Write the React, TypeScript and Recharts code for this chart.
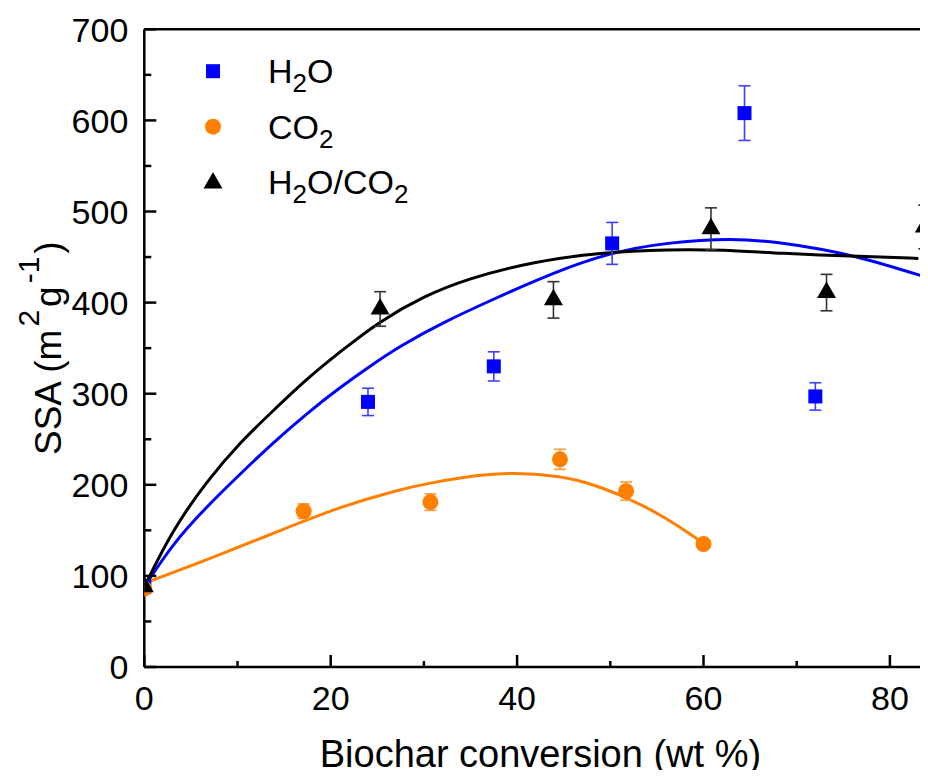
import React from 'react';
import { ComposedChart, Line, Scatter, XAxis, YAxis, ErrorBar, ReferenceLine, Label } from 'recharts';

const FONT = '"Liberation Sans", Arial, Helvetica, sans-serif';
const BLUE = '#0000FF';
const ORANGE = '#FF8000';
const BLACK = '#000000';

// Measured points (x = biochar conversion wt %, y = SSA m2/g, err = error bar half height)
const h2oX = [0, 24.0, 37.5, 50.2, 64.4, 72.0];
const h2oY = [88, 291, 330, 465, 608, 297];
const h2oErr = [0, 15, 16, 23, 30, 15];

const co2X = [0, 17.1, 30.7, 44.6, 51.7, 60.0];
const co2Y = [86, 171, 181, 228, 193, 135];
const co2Err = [0, 8, 9, 11, 10, 4];

const mixX = [0, 25.3, 43.9, 60.8, 73.2, 83.7];
const mixY = [88, 393, 403, 481, 411, 483];
const mixErr = [0, 19, 20, 23, 20, 24];

// Fitted curves
const h2oFitX = [0, 3.1, 6.7, 10.3, 13.9, 17.4, 21, 24.6, 27.4, 32, 37.5, 43.9, 50, 56, 63.2, 68.2, 72.5, 77.2, 84.5];
const h2oFitY = [88, 136, 176, 212, 247, 278, 307, 333, 352, 378, 404, 433, 455, 466, 471, 466, 459, 449, 426];

const co2FitX = [0, 6.7, 13.9, 21, 27.4, 30.7, 34, 38.9, 44.6, 48.4, 52.2, 55.8, 59.3, 60.0];
const co2FitY = [92, 117.5, 147, 176, 195, 202, 208, 214, 210, 200, 184, 165, 141, 135];

const mixFitX = [0, 3, 6.7, 10.3, 13.9, 17.4, 21, 25.3, 30, 34.6, 41.7, 48.9, 56.4, 62, 68.2, 77.1, 83.05];
const mixFitY = [88, 150, 204, 247, 282, 316, 346, 380, 407, 426, 445, 455, 458.5, 458, 454, 450.5, 448.5];

const xTicks = [0, 10, 20, 30, 40, 50, 60, 70, 80];
const yTicks = [0, 50, 100, 150, 200, 250, 300, 350, 400, 450, 500, 550, 600, 650, 700];

const toPts = (xs: number[], ys: number[], es?: number[]) =>
  xs.map((x, i) => ({ x, y: ys[i], err: es ? es[i] : 0 }));

const h2oData = toPts(h2oX, h2oY, h2oErr);
const co2Data = toPts(co2X, co2Y, co2Err);
const mixData = toPts(mixX, mixY, mixErr);
const h2oFit = toPts(h2oFitX, h2oFitY);
const co2Fit = toPts(co2FitX, co2FitY);
const mixFit = toPts(mixFitX, mixFitY);

const SquareShape = (p: any) => <rect x={p.cx - 7} y={p.cy - 7} width={14} height={14} fill={BLUE} />;
const CircleShape = (p: any) => <circle cx={p.cx} cy={p.cy} r={8} fill={ORANGE} />;
const TriShape = (p: any) => (
  <polygon
    points={`${p.cx},${p.cy - 11} ${p.cx - 9.5},${p.cy + 5.5} ${p.cx + 9.5},${p.cy + 5.5}`}
    fill={BLACK}
  />
);

const XTick = (props: any) => {
  const { x, y, payload } = props;
  const v = payload.value;
  const major = v % 20 === 0;
  return (
    <g>
      <line x1={x} x2={x} y1={y} y2={y - (major ? 12 : 6)} stroke="#000" strokeWidth={2.5} />
      {major && (
        <text x={x} y={y + 43} textAnchor="middle" fontSize={34} fontFamily={FONT} fill="#000">
          {v}
        </text>
      )}
    </g>
  );
};

const YTick = (props: any) => {
  const { x, y, payload } = props;
  const v = payload.value;
  const major = v % 100 === 0;
  return (
    <g>
      <line x1={x} x2={x + (major ? 12 : 7)} y1={y} y2={y} stroke="#000" strokeWidth={2.5} />
      {major && (
        <text x={x - 16} y={y} dy="0.36em" textAnchor="end" fontSize={34} fontFamily={FONT} fill="#000">
          {v}
        </text>
      )}
    </g>
  );
};

const XTitle = (props: any) => {
  const vb = props.viewBox;
  return (
    <text x={vb.x + vb.width / 2} y={vb.y + 99.7} textAnchor="middle" fontSize={38} fontFamily={FONT} fill="#000">
      Biochar conversion (wt %)
    </text>
  );
};

const YTitle = (props: any) => {
  const vb = props.viewBox;
  const cx = 61;
  const cy = vb.y + vb.height / 2;
  return (
    <text
      x={cx}
      y={cy}
      transform={`rotate(-90, ${cx}, ${cy})`}
      textAnchor="middle"
      fontSize={37}
      fontFamily={FONT}
      fill="#000"
    >
      SSA (m
      <tspan dx={3} dy={-22} fontSize={30}>2</tspan>
      <tspan dx={3} dy={22}>g</tspan>
      <tspan dx={3} dy={-22} fontSize={30}>-1</tspan>
      <tspan dx={3} dy={22}>)</tspan>
    </text>
  );
};

const legendItems = [
  { name: 'H', sub: '2', tail: 'O', sub2: '', kind: 'square' },
  { name: 'CO', sub: '2', tail: '', sub2: '', kind: 'circle' },
  { name: 'H', sub: '2', tail: 'O/CO', sub2: '2', kind: 'tri' },
];
const legendY = [71.2, 126.7, 182];

const LegendBox = () => (
  <svg width={460} height={230} style={{ position: 'absolute', left: 0, top: 0, pointerEvents: 'none' }}>
    {legendItems.map((it, i) => {
      const cx = 213;
      const cy = legendY[i];
      return (
        <g key={i}>
          {it.kind === 'square' && <SquareShape cx={cx} cy={cy} />}
          {it.kind === 'circle' && <CircleShape cx={cx} cy={cy} />}
          {it.kind === 'tri' && <TriShape cx={cx} cy={cy + 1} />}
          <text x={268} y={cy + 12} fontSize={34} fontFamily={FONT} fill="#000">
            {it.name}
            <tspan dy={9} fontSize={26}>{it.sub}</tspan>
            <tspan dy={-9}>{it.tail}</tspan>
            {it.sub2 && <tspan dy={9} fontSize={26}>{it.sub2}</tspan>}
          </text>
        </g>
      );
    })}
  </svg>
);

export default function App() {
  return (
    <div
      style={{
        width: 928,
        height: 778,
        marginLeft: -8,
        marginTop: -8,
        marginBottom: -8,
        overflow: 'hidden',
        position: 'relative',
        background: '#fff',
      }}
    >
      <ComposedChart width={948} height={778} margin={{ top: 29.3, right: 11.5, bottom: 0, left: 0 }}>
        <XAxis
          type="number"
          dataKey="x"
          domain={[0, 85]}
          ticks={xTicks}
          interval={0}
          tickSize={0}
          tickMargin={0}
          tick={<XTick />}
          axisLine={{ stroke: '#000', strokeWidth: 2.5 }}
          height={111}
          allowDataOverflow
        >
          <Label content={<XTitle />} />
        </XAxis>
        <YAxis
          type="number"
          dataKey="y"
          domain={[0, 700]}
          ticks={yTicks}
          interval={0}
          tickSize={0}
          tickMargin={0}
          tick={<YTick />}
          axisLine={{ stroke: '#000', strokeWidth: 2.5 }}
          width={144.3}
        >
          <Label content={<YTitle />} />
        </YAxis>
        <ReferenceLine y={700} stroke="#000" strokeWidth={2.5} />
        <Line data={co2Fit} dataKey="y" type="basis" stroke={ORANGE} strokeWidth={3} dot={false} activeDot={false} isAnimationActive={false} />
        <Line data={h2oFit} dataKey="y" type="basis" stroke={BLUE} strokeWidth={3} dot={false} activeDot={false} isAnimationActive={false} />
        <Line data={mixFit} dataKey="y" type="basis" stroke={BLACK} strokeWidth={3} dot={false} activeDot={false} isAnimationActive={false} />
        <Scatter data={h2oData} dataKey="y" shape={SquareShape} fill={BLUE} isAnimationActive={false}>
          <ErrorBar dataKey="err" direction="y" width={6} stroke="#4040FF" strokeWidth={1.6} />
        </Scatter>
        <Scatter data={co2Data} dataKey="y" shape={CircleShape} fill={ORANGE} isAnimationActive={false}>
          <ErrorBar dataKey="err" direction="y" width={6} stroke="#FF9933" strokeWidth={1.6} />
        </Scatter>
        <Scatter data={mixData} dataKey="y" shape={TriShape} fill={BLACK} isAnimationActive={false}>
          <ErrorBar dataKey="err" direction="y" width={6} stroke="#333333" strokeWidth={1.6} />
        </Scatter>
      </ComposedChart>
      <LegendBox />
    </div>
  );
}
